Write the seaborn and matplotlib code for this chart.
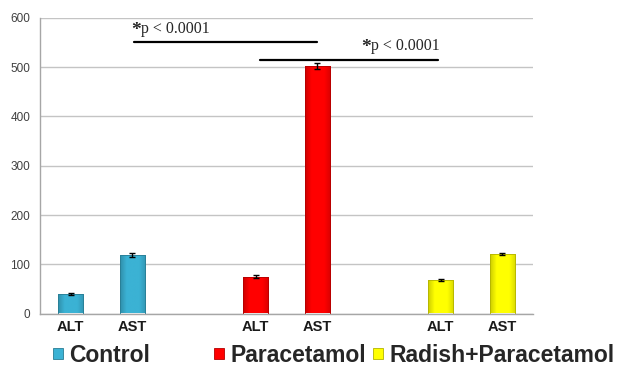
import matplotlib
matplotlib.use("Agg")

import matplotlib.pyplot as plt
import matplotlib.colors as mcolors
import numpy as np
import pandas as pd
import seaborn as sns
from matplotlib.patches import Patch

# ---- data ----
groups = ["Control", "Control", "Paracetamol", "Paracetamol",
          "Radish+Paracetamol", "Radish+Paracetamol"]
enzymes = ["ALT", "AST", "ALT", "AST", "ALT", "AST"]
means = [40, 119, 75, 503, 68, 120]
errors = [2, 4, 3, 6, 3, 2]
slot_order = ["Control ALT", "Control AST", "gap1",
              "Paracetamol ALT", "Paracetamol AST", "gap2",
              "Radish+Paracetamol ALT", "Radish+Paracetamol AST"]
slot_labels = ["ALT", "AST", "", "ALT", "AST", "", "ALT", "AST"]
group_colors = {"Control": "#3bb2d4", "Paracetamol": "#ff0000",
                "Radish+Paracetamol": "#ffff00"}
sig_star = "*"
sig_text = "p < 0.0001"

df = pd.DataFrame({"group": groups, "enzyme": enzymes,
                   "value": means, "err": errors})
df["slot"] = df["group"] + " " + df["enzyme"]

sns.set_style("white")
plt.rcParams["font.family"] = ["Liberation Sans", "DejaVu Sans"]
SERIF = ["Liberation Serif", "DejaVu Serif"]

fig = plt.figure(figsize=(6.22, 3.70), dpi=100)
ax = fig.add_axes([40 / 622, 56.5 / 370, 493 / 622, 295.5 / 370])

sns.barplot(data=df, x="slot", y="value", hue="group", order=slot_order,
            palette=group_colors, saturation=1, dodge=False, width=0.41,
            errorbar=None, legend=False, ax=ax, zorder=3)


def shade(c, f):
    r, g, b = mcolors.to_rgb(c)
    return (r * f, g * f, b * f)


# light cylinder-like shading on each bar, like the Office chart
for bar in ax.patches:
    h = bar.get_height()
    if not h or np.isnan(h):
        continue
    base = bar.get_facecolor()[:3]
    cmap = mcolors.LinearSegmentedColormap.from_list(
        "g", [shade(base, 0.8), base, base, base, shade(base, 0.85)])
    x0, w = bar.get_x(), bar.get_width()
    grad = np.linspace(0, 1, 64).reshape(1, -1)
    im = ax.imshow(grad, cmap=cmap, aspect="auto",
                   extent=[x0, x0 + w, 0, h], zorder=3.5)
    im.set_clip_path(bar)
    bar.set_edgecolor(shade(base, 0.7))
    bar.set_linewidth(0.6)
    bar.set_zorder(4)
    bar.set_facecolor("none")

pos = [slot_order.index(s) for s in df["slot"]]
ax.errorbar(pos, df["value"], yerr=df["err"], fmt="none", ecolor="black",
            elinewidth=1, capsize=2.5, capthick=1, zorder=5)

ax.set_xlim(-0.5, len(slot_order) - 0.5)
ax.set_ylim(0, 600)
ax.set_yticks(range(0, 601, 100))
ax.set_xticks(range(len(slot_order)))
ax.set_xticklabels(slot_labels, fontsize=10.5, fontweight="bold", color="#1a1a1a")
ax.set_xticks(np.arange(-0.5, len(slot_order)), minor=True)
ax.tick_params(axis="x", which="major", length=0, pad=5)
ax.tick_params(axis="x", which="minor", length=4, color="#a6a6a6", direction="out")
ax.tick_params(axis="y", length=3, color="#a6a6a6", direction="out",
               labelsize=8.5, labelcolor="#404040", pad=4)
ax.yaxis.grid(True, color="#c4c4c4", linewidth=1)
ax.set_axisbelow(True)
ax.set_xlabel("")
ax.set_ylabel("")
for side in ["top", "right"]:
    ax.spines[side].set_visible(False)
for side in ["left", "bottom"]:
    ax.spines[side].set_color("#a6a6a6")
    ax.spines[side].set_linewidth(1)


def sig_note(x, y):
    star = ax.text(x, y, sig_star, family=SERIF, fontsize=14,
                   fontweight="bold", va="center", ha="left", zorder=6)
    ax.annotate(sig_text, xy=(1, 0.12), xycoords=star, family=SERIF,
                fontsize=11.5, va="bottom", ha="left", zorder=6)


# significance brackets
ax.plot([1.03, 4.0], [551, 551], color="black", linewidth=1.6, zorder=6,
        clip_on=False)
sig_note(0.98, 575)
ax.plot([3.07, 5.96], [515, 515], color="black", linewidth=1.6, zorder=6,
        clip_on=False)
sig_note(4.72, 540)

# legend along the bottom, one entry per group
legend_x = {"Control": 42, "Paracetamol": 203, "Radish+Paracetamol": 362}
for name, color in group_colors.items():
    handle = Patch(facecolor=color, edgecolor=shade(mcolors.to_rgb(color), 0.7),
                   linewidth=0.6)
    fig.legend(handles=[handle], labels=[name], loc="center left",
               bbox_to_anchor=(legend_x[name] / 622, 1 - 355 / 370),
               frameon=False, borderpad=0, handlelength=0.4, handleheight=0.4,
               handletextpad=0.3, prop={"weight": "bold", "size": 16.5})

fig.savefig("out.png", dpi=100)
